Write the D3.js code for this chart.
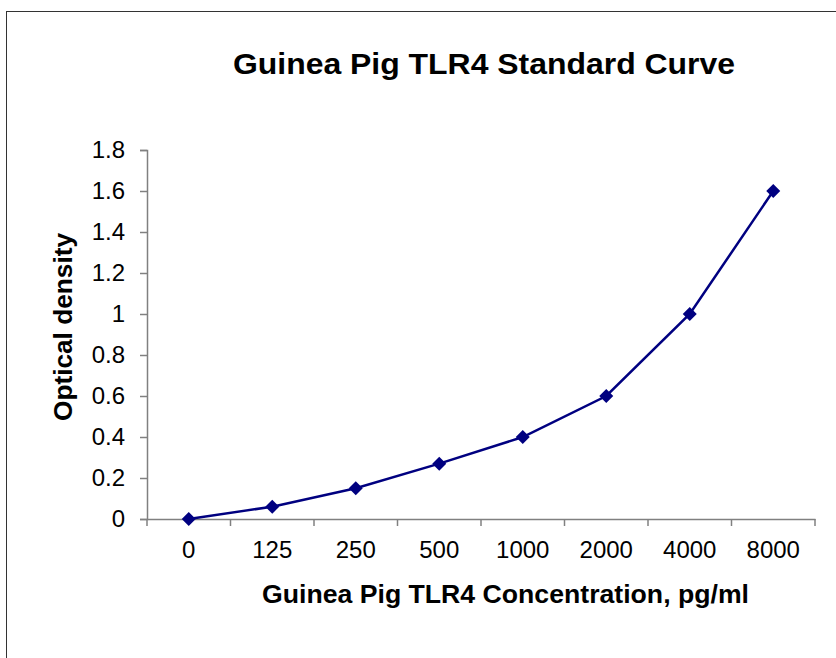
<!DOCTYPE html>
<html>
<head>
<meta charset="utf-8">
<script src="https://cdn.jsdelivr.net/npm/d3@7"></script>
<style>
  body { margin: 0; background: #fff; }
  svg { display: block; font-family: "Liberation Sans", Arial, sans-serif; }
</style>
</head>
<body>
<svg id="chart" width="836" height="658"></svg>
<script>
// chart data
var concentrations = ["0", "125", "250", "500", "1000", "2000", "4000", "8000"];
var odValues = [0, 0.06, 0.15, 0.27, 0.4, 0.6, 1.0, 1.6];
var yTicks = [0, 0.2, 0.4, 0.6, 0.8, 1, 1.2, 1.4, 1.6, 1.8];

var svg = d3.select("#chart");

// outer frame
svg.append("rect")
  .attr("x", 6.5).attr("y", 11.5)
  .attr("width", 840).attr("height", 660)
  .attr("fill", "none")
  .attr("stroke", "#333")
  .attr("stroke-width", 1);

var margin = {top: 150, left: 147},
    width = 668,
    height = 369;

var g = svg.append("g")
  .attr("transform", "translate(" + margin.left + "," + margin.top + ")");

var x = d3.scaleBand()
  .domain(concentrations)
  .range([0, width]);

var y = d3.scaleLinear()
  .domain([0, 1.8])
  .range([height, 0]);

// y axis
var yAxis = g.append("g")
  .call(d3.axisLeft(y).tickValues(yTicks).tickSize(7).tickPadding(15)
    .tickFormat(function(d) { return d3.format("~g")(d); }));
yAxis.select(".domain").attr("stroke", "#808080").attr("stroke-width", 1.5);
yAxis.selectAll(".tick line").attr("stroke", "#808080").attr("stroke-width", 1.5);
yAxis.selectAll("text").attr("font-size", 24).attr("fill", "#000")
  .attr("font-family", "Liberation Sans, Arial, sans-serif");

// x axis: ticks between categories
var xAxis = g.append("g")
  .attr("transform", "translate(0," + height + ")")
  .call(d3.axisBottom(x).tickSize(0).tickPadding(22));
xAxis.select(".domain").attr("stroke", "#808080").attr("stroke-width", 1.5);
xAxis.selectAll("text").attr("font-size", 24).attr("fill", "#000")
  .attr("font-family", "Liberation Sans, Arial, sans-serif");
xAxis.selectAll(".sep")
  .data(concentrations.concat(["end"]))
  .enter()
  .append("line")
    .attr("x1", function(d, i) { return i * x.step(); })
    .attr("x2", function(d, i) { return i * x.step(); })
    .attr("y1", 0).attr("y2", 7)
    .attr("stroke", "#808080")
    .attr("stroke-width", 1.5);

// line
var line = d3.line()
  .x(function(d, i) { return x(concentrations[i]) + x.bandwidth() / 2; })
  .y(function(d) { return y(d); });

g.append("path")
  .datum(odValues)
  .attr("d", line)
  .attr("fill", "none")
  .attr("stroke", "#000080")
  .attr("stroke-width", 2.5);

// diamond markers
g.selectAll(".pt")
  .data(odValues)
  .enter()
  .append("path")
    .attr("d", "M0,-7L7,0L0,7L-7,0Z")
    .attr("transform", function(d, i) {
      return "translate(" + (x(concentrations[i]) + x.bandwidth() / 2) + "," + y(d) + ")";
    })
    .attr("fill", "#000080");

// titles
svg.append("text")
  .attr("x", 233).attr("y", 74)
  .attr("font-size", 30).attr("font-weight", "bold")
  .attr("textLength", 502).attr("lengthAdjust", "spacingAndGlyphs")
  .text("Guinea Pig TLR4 Standard Curve");

svg.append("text")
  .attr("x", 262).attr("y", 603)
  .attr("font-size", 25).attr("font-weight", "bold")
  .attr("textLength", 487).attr("lengthAdjust", "spacingAndGlyphs")
  .text("Guinea Pig TLR4 Concentration, pg/ml");

svg.append("text")
  .attr("transform", "translate(72,421) rotate(-90)")
  .attr("font-size", 25).attr("font-weight", "bold")
  .attr("textLength", 188).attr("lengthAdjust", "spacingAndGlyphs")
  .text("Optical density");
</script>
</body>
</html>
